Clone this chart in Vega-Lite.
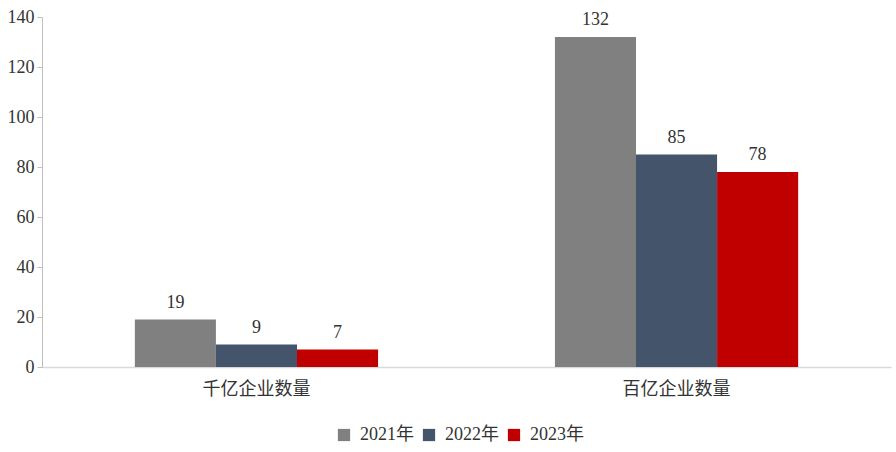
{
  "$schema": "https://vega.github.io/schema/vega-lite/v6.json",
  "width": 849,
  "height": 350,
  "autosize": "none",
  "padding": {"left": 42, "top": 17, "right": 5, "bottom": 85},
  "background": "white",
  "config": {
    "view": {"stroke": null},
    "font": "Liberation Serif, Noto Sans CJK SC",
    "text": {"font": "Liberation Serif, Noto Sans CJK SC"}
  },
  "data": {
    "values": [
      {"category": "千亿企业数量", "year": "2021年", "value": 19},
      {"category": "千亿企业数量", "year": "2022年", "value": 9},
      {"category": "千亿企业数量", "year": "2023年", "value": 7},
      {"category": "百亿企业数量", "year": "2021年", "value": 132},
      {"category": "百亿企业数量", "year": "2022年", "value": 85},
      {"category": "百亿企业数量", "year": "2023年", "value": 78}
    ]
  },
  "encoding": {
    "x": {
      "field": "category",
      "type": "nominal",
      "sort": ["千亿企业数量", "百亿企业数量"],
      "scale": {"paddingInner": 0.421, "paddingOuter": 0.221},
      "axis": {
        "title": null,
        "labelAngle": 0,
        "ticks": false,
        "domainColor": "#d9d9d9",
        "domainWidth": 1.5,
        "labelFontSize": 18,
        "labelColor": "#333333",
        "labelPadding": 13,
        "labelFont": "Noto Sans CJK SC"
      }
    },
    "xOffset": {"field": "year", "type": "nominal", "scale": {"paddingInner": 0, "paddingOuter": 0}},
    "y": {
      "field": "value",
      "type": "quantitative",
      "scale": {"domain": [0, 140]},
      "axis": {
        "title": null,
        "values": [0, 20, 40, 60, 80, 100, 120, 140],
        "grid": false,
        "domainColor": "#bfbfbf",
        "tickColor": "#bfbfbf",
        "tickSize": 5,
        "labelFontSize": 18,
        "labelColor": "#333333",
        "labelPadding": 3
      }
    }
  },
  "layer": [
    {
      "mark": {"type": "bar"},
      "encoding": {
        "color": {
          "field": "year",
          "type": "nominal",
          "scale": {"domain": ["2021年", "2022年", "2023年"], "range": ["#808080", "#44546A", "#C00000"]},
          "legend": {
            "title": null,
            "orient": "none",
            "legendX": 293,
            "legendY": 409,
            "direction": "horizontal",
            "symbolType": "square",
            "symbolSize": 150,
            "symbolStrokeWidth": 0,
            "labelFontSize": 18,
            "labelColor": "#333333",
            "labelFont": "Liberation Serif, Noto Sans CJK SC",
            "columnPadding": 6,
            "symbolOffset": 0,
            "labelOffset": 7
          }
        }
      }
    },
    {
      "mark": {"type": "text", "baseline": "bottom", "dy": -8, "fontSize": 18, "color": "#333333"},
      "encoding": {
        "text": {"field": "value", "type": "quantitative"}
      }
    }
  ]
}
